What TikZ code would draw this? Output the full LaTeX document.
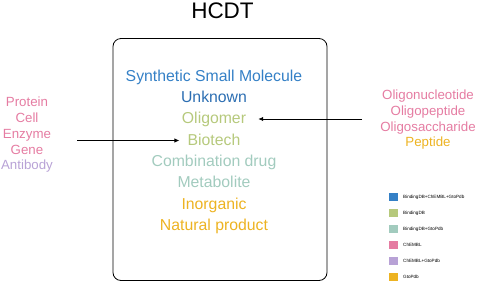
\documentclass[tikz,border=0pt]{standalone}
\usepackage{fontspec}
\setmainfont{Liberation Sans}
\usetikzlibrary{positioning,arrows.meta}

\definecolor{kblue}{HTML}{3480C6}
\definecolor{kdblue}{HTML}{2C6EB2}
\definecolor{kgreen}{HTML}{B6C97C}
\definecolor{kteal}{HTML}{A2CBBE}
\definecolor{kpink}{HTML}{E57CA2}
\definecolor{klav}{HTML}{B8A2D6}
\definecolor{kamber}{HTML}{EDB322}

\begin{document}
\begin{tikzpicture}[
    x=1pt, y=-1pt, on grid,
    item/.style={font=\fontsize{15.8}{18}\selectfont, inner sep=0pt, text height=11pt, text depth=3.5pt},
    src/.style={font=\fontsize{13.3}{15}\selectfont, inner sep=0pt, text height=9.5pt, text depth=3pt},
    key/.style={rectangle, minimum width=9pt, minimum height=8pt, inner sep=0pt},
    keytext/.style={font=\fontsize{4.6}{5}\selectfont, anchor=west, inner sep=0pt},
    arrow/.style={-{Latex[length=5pt,width=4.5pt]}, line width=0.9pt}
]
    \useasboundingbox (0,0) rectangle (488,282);

    \node[font=\fontsize{22.5}{26}\selectfont] (title) at (222.5,11) {HCDT};
    \node[draw, rounded corners=8pt, line width=0.8pt, minimum width=214pt, minimum height=242pt] (hcdt) at (220,159.5) {};

    % compound types inside the box
    \node[item, text=kblue] (synth) at (214,77.5) {Synthetic Small Molecule};
    \node[item, text=kdblue, below=21.3pt of synth] (unknown) {Unknown};
    \node[item, text=kgreen, below=21.3pt of unknown] (oligomer) {Oligomer};
    \node[item, text=kgreen, below=21.3pt of oligomer] (biotech) {Biotech};
    \node[item, text=kteal, below=21.3pt of biotech] (combo) {Combination drug};
    \node[item, text=kteal, below=21.3pt of combo] (metab) {Metabolite};
    \node[item, text=kamber, below=21.3pt of metab] (inorg) {Inorganic};
    \node[item, text=kamber, below=21.3pt of inorg] (natural) {Natural product};

    % biotech sources
    \node[src, text=kpink] (protein) at (27,103.5) {Protein};
    \node[src, text=kpink, below=15.8pt of protein] (cell) {Cell};
    \node[src, text=kpink, below=15.8pt of cell] (enzyme) {Enzyme};
    \node[src, text=kpink, below=15.8pt of enzyme] (gene) {Gene};
    \node[src, text=klav, below=15.8pt of gene] (antibody) {Antibody};

    % oligomer sources
    \node[src, text=kpink] (oligonuc) at (428,96.5) {Oligonucleotide};
    \node[src, text=kpink, below=15.7pt of oligonuc] (oligopep) {Oligopeptide};
    \node[src, text=kpink, below=15.7pt of oligopep] (oligosac) {Oligosaccharide};
    \node[src, text=kamber, below=15.7pt of oligosac] (peptide) {Peptide};

    \coordinate (lstart) at (77,140.5);
    \coordinate (rstart) at (362,119);
    \draw[arrow, shorten >=8pt] (lstart) -- (lstart -| biotech.west);
    \draw[arrow, shorten >=12pt] (rstart) -- (rstart -| oligomer.east);

    % legend
    \node[key, fill=kblue] (k1) at (393.5,197) {};
    \node[key, fill=kgreen, below=16pt of k1] (k2) {};
    \node[key, fill=kteal, below=16pt of k2] (k3) {};
    \node[key, fill=kpink, below=16pt of k3] (k4) {};
    \node[key, fill=klav, below=16pt of k4] (k5) {};
    \node[key, fill=kamber, below=16pt of k5] (k6) {};
    \node[keytext] (t1) at ([xshift=9.5pt]k1.center) {BindingDB+ChEMBL+GtoPdb};
    \node[keytext] (t2) at ([xshift=9.5pt]k2.center) {BindingDB};
    \node[keytext] (t3) at ([xshift=9.5pt]k3.center) {BindingDB+GtoPdb};
    \node[keytext] (t4) at ([xshift=9.5pt]k4.center) {ChEMBL};
    \node[keytext] (t5) at ([xshift=9.5pt]k5.center) {ChEMBL+GtoPdb};
    \node[keytext] (t6) at ([xshift=9.5pt]k6.center) {GtoPdb};
\end{tikzpicture}
\end{document}
